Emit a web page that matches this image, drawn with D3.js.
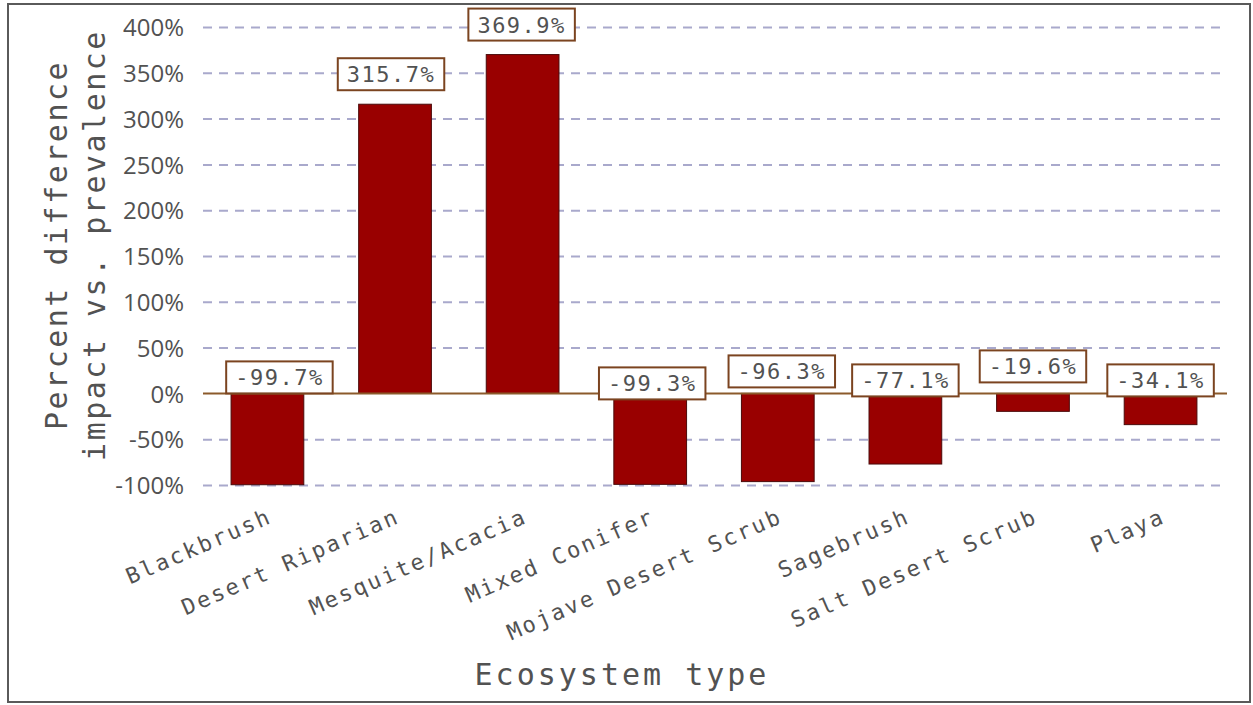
<!DOCTYPE html>
<html>
<head>
<meta charset="utf-8">
<script src="https://cdn.jsdelivr.net/npm/d3@7"></script>
<style>
  body { margin: 0; background: #fff; }
  .mono { font-family: "DejaVu Sans Mono", monospace; fill: #525252; }
</style>
</head>
<body>
<svg id="chart" width="1253" height="705"></svg>
<script>
// data
const ecosystems = ["Blackbrush", "Desert Riparian", "Mesquite/Acacia", "Mixed Conifer",
  "Mojave Desert Scrub", "Sagebrush", "Salt Desert Scrub", "Playa"];
const pctDiff = [-99.7, 315.7, 369.9, -99.3, -96.3, -77.1, -19.6, -34.1];
const yTicks = [-100, -50, 0, 50, 100, 150, 200, 250, 300, 350, 400];

// small nudges of the value boxes (the original labels are not all level)
const labelLift = [4, 7, 7, -2, 10, 1, 15, 1];
const labelShift = [12, -4, -1, 2, 4, 0, 0, 0];

const svg = d3.select("svg#chart");

//frame round the whole picture
svg.append("rect").attr("x", 8).attr("y", 4).attr("width", 1242).attr("height", 698)
  .attr("fill", "white").attr("stroke", "#5a5a5a").attr("stroke-width", 2);

const plotLeft = 203, plotRight = 1225, plotTop = 27, plotBottom = 485;

const x = d3.scaleBand().domain(ecosystems).range([plotLeft, plotRight]).paddingInner(0.43).paddingOuter(0.22);
const y = d3.scaleLinear().domain([-100, 400]).range([plotBottom, plotTop]);

//dashed gridlines
const grid = svg.append("g").attr("transform", "translate(" + plotLeft + ",0)")
  .call(d3.axisLeft(y).tickValues(yTicks.filter(d => d !== 0)).tickSize(-(plotRight - plotLeft)).tickFormat(""));
grid.select(".domain").remove();
grid.selectAll("line").attr("stroke", "#a9a9cc").attr("stroke-width", 2).attr("stroke-dasharray", "9,7");

//tick labels
const yAxis = svg.append("g").attr("transform", "translate(" + plotLeft + ",0)")
  .call(d3.axisLeft(y).tickValues(yTicks).tickSize(0).tickPadding(19).tickFormat(d => d + "%"));
yAxis.select(".domain").remove();
yAxis.selectAll("text").attr("font-family", "'Open Sans', sans-serif").attr("font-size", 24)
  .attr("fill", "#525252").attr("dy", "0.36em");

//bars
svg.append("g").selectAll("rect").data(pctDiff).join("rect")
  .attr("x", (d, i) => x(ecosystems[i]))
  .attr("y", d => y(Math.max(0, d)))
  .attr("width", x.bandwidth())
  .attr("height", d => Math.abs(y(d) - y(0)))
  .attr("fill", "#990000").attr("stroke", "#4a0a0a").attr("stroke-width", 1);

//zero line
svg.append("line").attr("x1", plotLeft).attr("x2", plotRight + 2).attr("y1", y(0)).attr("y2", y(0))
  .attr("stroke", "#8b5a2b").attr("stroke-width", 2);

//value boxes
const boxH = 32;
const labels = svg.append("g").selectAll("g").data(pctDiff).join("g")
  .attr("transform", (d, i) => {
    const cx = x(ecosystems[i]) + x.bandwidth() / 2 + labelShift[i];
    const base = d > 0 ? y(d) - 7 : y(0) + 4;
    return "translate(" + cx + "," + (base - labelLift[i]) + ")";
  });
labels.append("text").attr("class", "mono").attr("text-anchor", "middle")
  .attr("y", -8).attr("font-size", 22).attr("letter-spacing", 1.5)
  .text(d => d.toFixed(1) + "%");
labels.each(function () {
  const g = d3.select(this);
  const w = g.select("text").node().getComputedTextLength() + 18;
  g.insert("rect", "text").attr("x", -w / 2).attr("y", -boxH).attr("width", w).attr("height", boxH)
    .attr("fill", "white").attr("stroke", "#7b4420").attr("stroke-width", 2);
});

//category labels, tilted
const xAxis = svg.append("g").attr("transform", "translate(0," + plotBottom + ")")
  .call(d3.axisBottom(x).tickSize(0));
xAxis.select(".domain").remove();
xAxis.selectAll("text").attr("class", "mono").attr("font-size", 22).attr("letter-spacing", 2.4)
  .attr("text-anchor", "end").attr("x", 0).attr("y", 0).attr("dy", 0)
  .attr("transform", "translate(6,37) rotate(-23.5)");

//axis titles
svg.append("text").attr("class", "mono").attr("font-size", 30).attr("letter-spacing", 3)
  .attr("text-anchor", "middle").attr("x", 622).attr("y", 685).text("Ecosystem type");

const yTitle = svg.append("text").attr("class", "mono").attr("font-size", 30).attr("letter-spacing", 2.5)
  .attr("text-anchor", "middle").attr("transform", "translate(57,245) rotate(-90)");
yTitle.append("tspan").attr("x", 0).attr("dy", 10).text("Percent difference");
yTitle.append("tspan").attr("x", 0).attr("dy", 38).text("impact vs. prevalence");
</script>
</body>
</html>
